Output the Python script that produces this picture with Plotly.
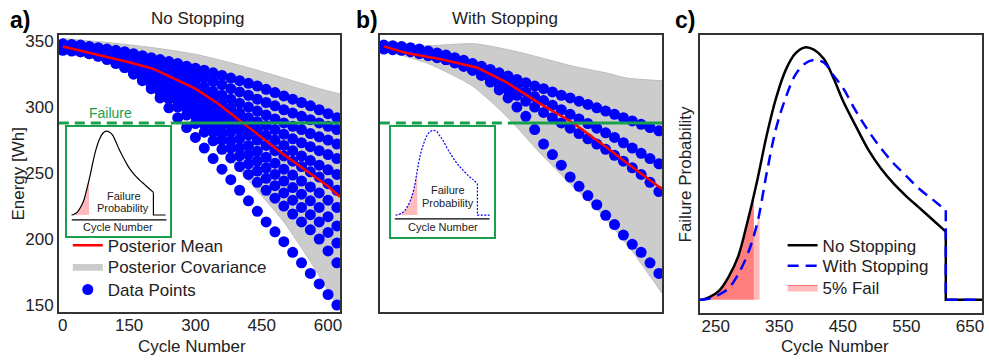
import plotly.graph_objects as go

W, H = 989, 361
FONT = "Liberation Sans, Arial, sans-serif"

# ---------------- data: panels a / b ----------------
CYC = list(range(0, 621, 20))  # sampled cycle numbers of the data points

traj_a = [
    [348, 347.5, 347, 346, 345, 344, 343, 342, 340.5, 339, 337.5, 336, 334.5, 333, 331, 329.5, 328, 326, 324, 322, 320, 318, 316, 313.5, 311, 308.5, 306, 303.5, 301, 298, 295, 292],
    [347, 346, 345.5, 345, 344, 343, 341.5, 340, 338.5, 337, 335, 333, 331, 329, 327, 324.5, 322, 319.5, 317, 314, 311.5, 309, 306, 303.5, 301, 298, 295.5, 293, 290.5, 288, 285.5, 283],
    [346, 345.5, 345, 344, 343, 341.5, 340, 338, 336, 334, 331.5, 329, 326.5, 324, 321, 318, 315, 312, 309, 306, 303, 300, 297, 294, 291, 288, 285.5, 283, 280, 277.5, 275, 272],
    [345, 344.5, 344, 343, 342, 340, 338, 336, 334, 331, 328, 325, 322, 319, 316, 312.5, 309, 305.5, 302, 299, 295.5, 292, 289, 286, 283, 279.5, 276, 273, 270, 267, 264, 261],
    [347, 346, 345, 344, 342.5, 341, 339, 336.5, 334, 331, 328, 324.5, 321, 317, 313, 309, 305, 301, 297, 293, 289, 285.5, 282, 278.5, 275, 271, 267, 263, 259.5, 256, 252.5, 249],
    [344, 343.5, 343, 342, 340.5, 339, 337, 334.5, 332, 329, 325.5, 322, 318, 314, 309.5, 305, 300.5, 296, 291.5, 287, 283, 279, 275, 271, 267, 263, 259, 255, 251, 247, 242, 237],
    [346, 345, 344, 343, 341, 339, 336.5, 334, 331, 327.5, 324, 320, 315.5, 311, 306, 301, 296, 291, 286, 281, 276, 271, 266.5, 262, 257.5, 253, 248.5, 244, 239.5, 235, 229.5, 224],
    [343, 342.5, 342, 340.5, 339, 337, 334.5, 332, 329, 325, 321, 316.5, 312, 307, 302, 296.5, 291, 285.5, 280, 274.5, 269, 264, 259, 254, 249, 244, 239, 234, 229, 224, 217, 210],
    [345, 344, 343, 341.5, 340, 337.5, 335, 332, 328.5, 324.5, 320, 315, 310, 304.5, 299, 293, 287, 281, 275, 269, 263, 257, 251.5, 246, 240.5, 235, 229.5, 224, 218.5, 213, 205, 197],
    [344, 343, 342, 340.5, 338.5, 336, 333, 330, 326, 322, 317, 311.5, 306, 300, 294, 287.5, 281, 274.5, 268, 261.5, 255, 249, 243, 237, 231, 225, 219, 213, 207, 200, 191, 182],
    [344, 343.5, 342.5, 341, 339, 337, 334, 330, 325, 320, 314, 307, 299.5, 292, 284.5, 277, 269, 261, 253, 245, 237, 229, 221, 213, 205.5, 198, 190, 182, 174, 166, 158, 150],
]

traj_b = [
    [347, 346.5, 346, 345, 344, 342.5, 341, 339.5, 337.5, 335.5, 333, 331, 328.5, 326, 323.5, 321, 318.5, 316, 314, 311.5, 309, 307, 304.5, 302, 299.5, 297, 294.5, 292, 289.5, 287, 284.5, 282],
    [344, 343.5, 343, 342, 340.5, 339, 337.5, 336, 334, 332, 329.5, 327, 324, 321, 318, 315, 311.5, 308, 305, 301.5, 298, 294.5, 291, 287.5, 284, 280.5, 277, 273, 269, 265, 261, 257],
    [346, 345, 344, 343, 341.5, 340, 338, 336, 333.5, 331, 328, 324.5, 321, 317, 313, 309, 304.5, 300, 296, 292, 288, 284, 280, 276, 272, 268, 263.5, 259, 254, 249, 243, 236],
    [345, 344, 343.5, 342.5, 341, 339.5, 338, 336, 334, 331, 328, 324, 319, 313, 307, 300, 293, 283, 272, 264, 256, 247, 240, 233, 226, 218, 211, 203, 196, 190, 182, 174],
]

mean_a_x = [0, 50, 100, 150, 205, 250, 300, 350, 400, 450, 500, 550, 600, 627]
mean_a_y = [346, 342, 338, 334, 329, 322, 314, 303, 290, 277, 264, 252, 240, 232]
mean_b_x = [0, 50, 126, 201, 210, 278, 350, 427, 500, 562, 627]
mean_b_y = [346, 341, 336.5, 331, 330, 318.5, 303, 288, 270, 254, 238]

band_a_hi_x = [0, 100, 205, 300, 386, 450, 520, 580, 627]
band_a_hi_y = [352, 349, 345, 340, 333, 327, 320, 314, 310]
band_a_lo_x = [0, 100, 200, 300, 400, 500, 560, 627]
band_a_lo_y = [341, 334, 318, 290, 252, 213, 183, 146]

band_b_hi_x = [0, 100, 205, 300, 427, 500, 548, 627]
band_b_hi_y = [346, 346.5, 348, 342, 331, 326, 322, 320]
band_b_lo_x = [0, 100, 200, 280, 350, 420, 488, 555, 627]
band_b_lo_y = [343, 333, 316, 292, 266, 242, 220, 193, 159]

FAILURE = 288
fail_dash_end_a = 255
fail_dash_end_b = 302

# ---------------- data: panel c ----------------
c_x = [225, 228, 240, 255, 270, 285, 300, 315, 330, 345, 360, 375, 390, 405, 420, 435, 450, 470, 490, 510, 530, 550, 570, 590, 612]
no_stop_y = [0, 0, 0.01, 0.035, 0.09, 0.17, 0.31, 0.47, 0.65, 0.80, 0.91, 0.975, 1.0, 0.99, 0.955, 0.88, 0.79, 0.69, 0.595, 0.52, 0.46, 0.41, 0.365, 0.32, 0.27]
with_stop_y = [0, 0, 0.005, 0.02, 0.045, 0.10, 0.18, 0.30, 0.50, 0.68, 0.80, 0.89, 0.935, 0.95, 0.94, 0.89, 0.84, 0.75, 0.67, 0.60, 0.54, 0.49, 0.44, 0.40, 0.355]
DROP = 612
END = 669

fail_dark_x = [228, 240, 255, 270, 285, 300, 310]
fail_dark_y = [0, 0.01, 0.035, 0.09, 0.17, 0.31, 0.42]
fail_light_x = [310, 315, 319]
fail_light_y = [0.26, 0.30, 0.35]
inset_b_fail_x = [228, 240, 255, 270, 285, 300, 315, 330]
inset_b_fail_y = [0, 0.005, 0.02, 0.045, 0.10, 0.18, 0.30, 0.50]

# ---------------- styles ----------------
BLUE = "#0000FF"
RED = "#FF0000"
GREEN = "#1AA04C"
GRAY = "#CCCCCC"
GRAY_LINE = "#BDBDBD"
PINK_DARK = "#FF7F7F"
PINK_LIGHT = "#FFBBBB"


def px(x):
    return x / W


def py(y):
    return 1 - y / H


fig = go.Figure()


def panel(xa, ya, trajs, mx, my, hx, hy, lx, ly, dash_end, show):
    fig.add_trace(go.Scatter(x=lx, y=ly, mode="lines", line=dict(color=GRAY_LINE, width=1, shape="spline", smoothing=0.6),
                             showlegend=False, hoverinfo="skip", xaxis=xa, yaxis=ya))
    fig.add_trace(go.Scatter(x=hx, y=hy, mode="lines", fill="tonexty", fillcolor=GRAY,
                             line=dict(color=GRAY_LINE, width=1, shape="spline", smoothing=0.6),
                             name="Posterior Covariance", showlegend=show, legend="legend2",
                             xaxis=xa, yaxis=ya))
    xs, ys = [], []
    for t in trajs:
        xs += CYC[:len(t)]
        ys += t
    fig.add_trace(go.Scatter(x=xs, y=ys, mode="markers", marker=dict(color=BLUE, size=11, line=dict(width=0)),
                             name="Data Points", showlegend=show, legend="legend3",
                             xaxis=xa, yaxis=ya))
    fig.add_trace(go.Scatter(x=mx, y=my, mode="lines", line=dict(color=RED, width=2.5),
                             name="Posterior Mean", showlegend=show, legend="legend",
                             xaxis=xa, yaxis=ya))
    fig.add_trace(go.Scatter(x=[-9, dash_end], y=[FAILURE, FAILURE], mode="lines",
                             line=dict(color=GREEN, width=3, dash="10px,6px"), showlegend=False, xaxis=xa, yaxis=ya))
    fig.add_trace(go.Scatter(x=[dash_end, 627], y=[FAILURE, FAILURE], mode="lines",
                             line=dict(color=GREEN, width=3), showlegend=False, xaxis=xa, yaxis=ya))


panel("x", "y", traj_a, mean_a_x, mean_a_y, band_a_hi_x, band_a_hi_y, band_a_lo_x, band_a_lo_y, fail_dash_end_a, True)
panel("x2", "y2", traj_b, mean_b_x, mean_b_y, band_b_hi_x, band_b_hi_y, band_b_lo_x, band_b_lo_y, fail_dash_end_b, False)

# ---- panel c ----
fig.add_trace(go.Scatter(x=fail_light_x + [fail_light_x[-1], fail_light_x[0]], y=fail_light_y + [0, 0], mode="lines",
                         fill="toself", fillcolor=PINK_LIGHT, line=dict(width=0), showlegend=False,
                         xaxis="x3", yaxis="y3"))
fig.add_trace(go.Scatter(x=fail_dark_x, y=fail_dark_y, mode="lines", fill="tozeroy", fillcolor=PINK_DARK,
                         line=dict(width=0, shape="spline"), showlegend=False, xaxis="x3", yaxis="y3"))
fig.add_trace(go.Scatter(x=c_x, y=no_stop_y, mode="lines", line=dict(color="black", width=2.5, shape="spline"),
                         name="No Stopping", legend="legend4", xaxis="x3", yaxis="y3"))
fig.add_trace(go.Scatter(x=[DROP, DROP, END], y=[no_stop_y[-1], 0, 0], mode="lines",
                         line=dict(color="black", width=2.5), showlegend=False, xaxis="x3", yaxis="y3"))
fig.add_trace(go.Scatter(x=c_x, y=with_stop_y, mode="lines",
                         line=dict(color=BLUE, width=2.5, dash="11px,7px", shape="spline"),
                         name="With Stopping", legend="legend5", xaxis="x3", yaxis="y3"))
fig.add_trace(go.Scatter(x=[DROP, DROP, END], y=[with_stop_y[-1], 0, 0], mode="lines",
                         line=dict(color=BLUE, width=2.5, dash="11px,7px"), showlegend=False, xaxis="x3", yaxis="y3"))
fig.add_trace(go.Scatter(x=[None], y=[None], mode="lines", fill="toself", fillcolor=PINK_LIGHT,
                         line=dict(color="#FF6F6F", width=1), name="5% Fail", legend="legend6",
                         xaxis="x3", yaxis="y3"))

# ---- insets ----
fig.add_trace(go.Scatter(x=fail_dark_x, y=fail_dark_y, mode="lines", fill="tozeroy", fillcolor=PINK_LIGHT,
                         line=dict(width=0, shape="spline"), showlegend=False, xaxis="x4", yaxis="y4"))
fig.add_trace(go.Scatter(x=c_x[1:], y=no_stop_y[1:], mode="lines", line=dict(color="black", width=1.2, shape="spline"),
                         showlegend=False, xaxis="x4", yaxis="y4"))
fig.add_trace(go.Scatter(x=[DROP, DROP, END], y=[no_stop_y[-1], 0, 0], mode="lines",
                         line=dict(color="black", width=1.2), showlegend=False, xaxis="x4", yaxis="y4"))
fig.add_trace(go.Scatter(x=inset_b_fail_x, y=inset_b_fail_y, mode="lines", fill="tozeroy", fillcolor=PINK_LIGHT,
                         line=dict(width=0, shape="spline"), showlegend=False, xaxis="x5", yaxis="y5"))
fig.add_trace(go.Scatter(x=c_x[1:], y=with_stop_y[1:], mode="lines",
                         line=dict(color=BLUE, width=1.2, dash="2px,1.5px", shape="spline"),
                         showlegend=False, xaxis="x5", yaxis="y5"))
fig.add_trace(go.Scatter(x=[DROP, DROP, END], y=[with_stop_y[-1], 0, 0], mode="lines",
                         line=dict(color=BLUE, width=1.2, dash="2px,1.5px"), showlegend=False, xaxis="x5", yaxis="y5"))

axc = dict(showline=True, mirror=True, linecolor="#333333", linewidth=1.5, showgrid=False, zeroline=False,
           ticks="", tickfont=dict(size=17, color="#222222", family=FONT))
inset_ax = dict(showline=True, mirror=True, linecolor=GREEN, linewidth=1.5, showgrid=False, zeroline=False,
                ticks="", showticklabels=False)

ann = []


def A(text, x, y, size=17, color="#222222", angle=0, xanchor="center", bold=False, xref="paper", yref="paper"):
    ann.append(dict(text=("<b>%s</b>" % text) if bold else text, x=x, y=y, xref=xref, yref=yref,
                    xanchor=xanchor, yanchor="middle", showarrow=False, textangle=angle,
                    font=dict(size=size, color=color, family=FONT)))


A("a)", px(7), py(18), size=23, color="black", xanchor="left", bold=True)
A("b)", px(354), py(18), size=23, color="black", xanchor="left", bold=True)
A("c)", px(674), py(18), size=23, color="black", xanchor="left", bold=True)
A("No Stopping", px(198), py(17))
A("With Stopping", px(506), py(17))
A("Cycle Number", px(192), py(349))
A("Cycle Number", px(837), py(349))
A("Energy [Wh]", px(18), py(174), angle=-90)
A("Failure Probability", px(687), py(174), angle=-90)
A("Failure", 108, 295.5, size=14, color=GREEN, xref="x", yref="y")
A("Failure", px(123), py(197), size=11)
A("Probability", px(122), py(209), size=11)
A("Cycle Number", px(117.5), py(228), size=11)
A("Failure", px(448), py(191), size=11)
A("Probability", px(448), py(204), size=11)
A("Cycle Number", px(443), py(228), size=11)

shapes = [
    dict(type="line", xref="paper", yref="paper", x0=px(71), x1=px(166), y0=py(221), y1=py(221),
         line=dict(color="black", width=1.2)),
    dict(type="line", xref="paper", yref="paper", x0=px(395), x1=px(490), y0=py(220), y1=py(220),
         line=dict(color="black", width=1.2)),
]


def LEG(x, y):
    return dict(x=px(x), y=py(y), xanchor="left", yanchor="middle", bgcolor="rgba(0,0,0,0)",
                font=dict(size=17, color="#222222", family=FONT), tracegroupgap=0)


fig.update_layout(
    width=W, height=H, margin=dict(l=0, r=0, t=0, b=0),
    paper_bgcolor="white", plot_bgcolor="white",
    font=dict(family=FONT, size=17, color="#222222"),
    xaxis=dict(domain=[px(58), px(340)], range=[-9, 627], tickvals=[0, 150, 300, 450, 600], anchor="y",
               ticklabelstandoff=-3, **axc),
    yaxis=dict(domain=[py(314), py(33)], range=[145, 355], tickvals=[150, 200, 250, 300, 350], anchor="x", **axc),
    xaxis2=dict(domain=[px(380), px(663)], range=[-9, 627], showticklabels=False, anchor="y2", **axc),
    yaxis2=dict(domain=[py(314), py(33)], range=[145, 355], showticklabels=False, anchor="x2", **axc),
    xaxis3=dict(domain=[px(701), px(984)], range=[225, 669], tickvals=[250, 350, 450, 550, 650], anchor="y3",
                ticklabelstandoff=-3, **axc),
    yaxis3=dict(domain=[py(315), py(33)], range=[-0.051, 1.051], showticklabels=False, anchor="x3", **axc),
    xaxis4=dict(domain=[px(66), px(170)], range=[206, 692], anchor="y4", **inset_ax),
    yaxis4=dict(domain=[py(237), py(127)], range=[-0.247, 1.047], anchor="x4", **inset_ax),
    xaxis5=dict(domain=[px(391), px(495)], range=[206, 692], anchor="y5", **inset_ax),
    yaxis5=dict(domain=[py(238), py(127)], range=[-0.243, 0.985], anchor="x5", **inset_ax),
    legend=LEG(67, 247),
    legend2=LEG(67, 269),
    legend3=LEG(67, 292),
    legend4=LEG(784, 247),
    legend5=LEG(784, 268),
    legend6=LEG(784, 290),
    annotations=ann, shapes=shapes, showlegend=True,
)

fig.write_html("out.html", config={"displayModeBar": False},
               post_script="document.body.style.margin='0px';")
